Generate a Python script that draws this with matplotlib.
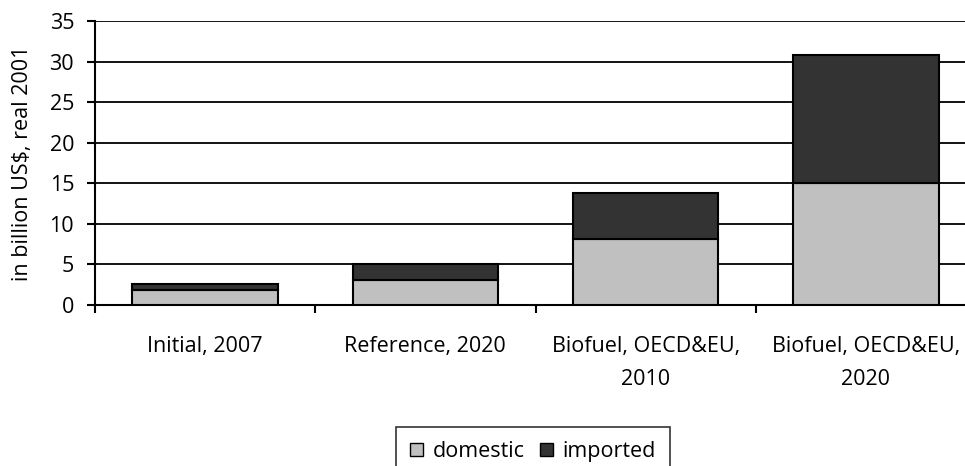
import matplotlib
matplotlib.use("Agg")
import matplotlib.pyplot as plt
import matplotlib.patches as mpatches
import numpy as np

# --- data ---
scenarios = ["Initial, 2007", "Reference, 2020",
             "Biofuel, OECD&EU,\n2010", "Biofuel, OECD&EU,\n2020"]
domestic = [1.9, 3.1, 8.1, 15.0]
imported = [0.7, 2.0, 5.7, 15.8]
y_ticks = [0, 5, 10, 15, 20, 25, 30, 35]

plt.rcParams['font.family'] = ['Open Sans', 'DejaVu Sans']
FS = 15.5

fig = plt.figure(figsize=(9.65, 4.66), dpi=100)
# plot area runs a bit past the right edge, as in the original
ax = fig.add_axes([95 / 965, 1 - 305 / 466, 881 / 965, 284 / 466])

x = np.arange(len(scenarios))
ax.bar(x, domestic, width=0.66, color='#c0c0c0', edgecolor='black',
       linewidth=1.5, zorder=3, label='domestic')
ax.bar(x, imported, width=0.66, bottom=domestic, color='#333333',
       edgecolor='black', linewidth=1.5, zorder=3, label='imported')

ax.set_xlim(-0.5, len(scenarios) - 0.5)
ax.set_ylim(0, 35)
ax.set_yticks(y_ticks)
ax.yaxis.grid(True, color='black', linewidth=1.3, zorder=0)
ax.set_axisbelow(True)

# category labels sit between the boundary ticks
ax.set_xticks(x)
ax.set_xticklabels(scenarios, linespacing=1.75)
ax.set_xticks(np.arange(-0.5, len(scenarios)), minor=True)
ax.tick_params(axis='x', which='major', length=0, pad=22, labelsize=FS)
ax.tick_params(axis='x', which='minor', length=6, width=1.5, direction='out')
ax.tick_params(axis='y', length=6, width=1.5, direction='out',
               labelsize=FS, pad=9)

for side in ['top', 'right']:
    ax.spines[side].set_visible(False)
for side in ['left', 'bottom']:
    ax.spines[side].set_linewidth(1.5)

ax.set_ylabel('in billion US$, real 2001', fontsize=FS, labelpad=12)

dom_patch = mpatches.Patch(facecolor='#c0c0c0', edgecolor='black', label='domestic')
imp_patch = mpatches.Patch(facecolor='#333333', edgecolor='black', label='imported')
leg = fig.legend(handles=[dom_patch, imp_patch], loc='upper left',
                 bbox_to_anchor=(396 / 965, 1 - 427 / 466), ncol=2,
                 fontsize=FS, frameon=True, fancybox=False,
                 handlelength=0.6, handleheight=0.6, handletextpad=0.45,
                 columnspacing=0.7, borderpad=0.65, borderaxespad=0,
                 edgecolor='black')
leg.get_frame().set_linewidth(1.2)

plt.savefig('out.png', dpi=100)
